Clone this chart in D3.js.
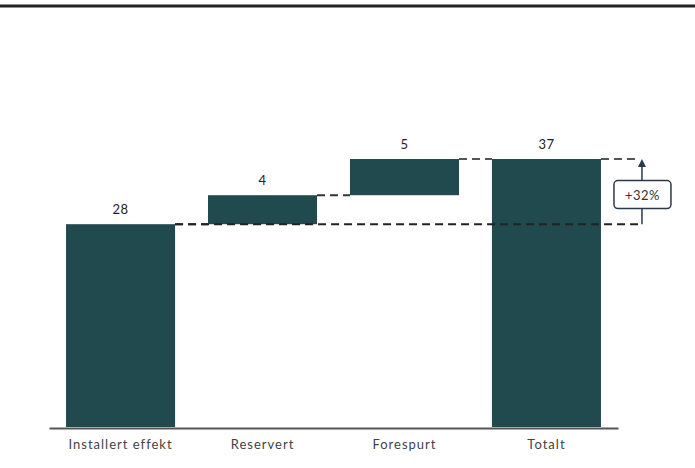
<!DOCTYPE html>
<html>
<head>
<meta charset="utf-8">
<script src="https://cdn.jsdelivr.net/npm/d3@7"></script>
<style>
  html, body { margin: 0; padding: 0; background: #fff; }
  svg { display: block; }
</style>
</head>
<body>
<svg id="chart" width="695" height="468"></svg>
<script>
// Waterfall: installed capacity, reserved, requested, total
const categories = ["Installert effekt", "Reservert", "Forespurt", "Totalt"];
const values = [28, 4, 5, 37];
const kinds = ["total", "step", "step", "total"];

const W = 695, H = 468;
const barColor = "#214a4e";
const font = "Lato, 'Open Sans', sans-serif";
const svg = d3.select("#chart");

// Running base for each step bar
let run = 0;
const rows = categories.map((c, i) => {
  let y0, y1;
  if (kinds[i] === "total") { y0 = 0; y1 = values[i]; run = values[i]; }
  else { y0 = run; y1 = run + values[i]; run = y1; }
  return { cat: c, value: values[i], y0, y1 };
});

const x = d3.scaleBand().domain(categories)
  .range([49, 618]).paddingInner(0.232).paddingOuter(0.12);
const y = d3.scaleLinear().domain([0, 37]).range([427, 159]);

// top rule
svg.append("line").attr("x1", 0).attr("x2", W).attr("y1", 6).attr("y2", 6)
  .attr("stroke", "#222").attr("stroke-width", 3);

// bars
svg.selectAll("rect.bar").data(rows).join("rect")
  .attr("class", "bar")
  .attr("x", d => x(d.cat))
  .attr("width", x.bandwidth())
  .attr("y", d => y(d.y1))
  .attr("height", d => y(d.y0) - y(d.y1))
  .attr("fill", barColor);

// connectors between consecutive bars
const dash = "8,5";
for (let i = 0; i < rows.length - 1; i++) {
  const lvl = rows[i].y1;
  svg.append("line")
    .attr("x1", x(rows[i].cat) + x.bandwidth())
    .attr("x2", x(rows[i + 1].cat))
    .attr("y1", y(lvl)).attr("y2", y(lvl))
    .attr("stroke", i === rows.length - 2 ? "#555" : "#333")
    .attr("stroke-width", 2)
    .attr("stroke-dasharray", dash);
}

// growth indicator on the right
const first = rows[0], last = rows[rows.length - 1];
const arrowX = x(last.cat) + x.bandwidth() + 41;
svg.append("line")
  .attr("x1", x(first.cat) + x.bandwidth()).attr("x2", arrowX)
  .attr("y1", y(first.y1)).attr("y2", y(first.y1))
  .attr("stroke", "#222").attr("stroke-width", 2)
  .attr("stroke-dasharray", dash);
svg.append("line")
  .attr("x1", x(last.cat) + x.bandwidth()).attr("x2", arrowX - 2)
  .attr("y1", y(last.y1)).attr("y2", y(last.y1))
  .attr("stroke", "#555").attr("stroke-width", 2)
  .attr("stroke-dasharray", dash);
svg.append("line")
  .attr("x1", arrowX).attr("x2", arrowX)
  .attr("y1", y(first.y1)).attr("y2", y(last.y1) + 6)
  .attr("stroke", "#2b3a4a").attr("stroke-width", 1.5);
svg.append("path")
  .attr("d", `M${arrowX},${y(last.y1)} l-4,8 l8,0 z`)
  .attr("fill", "#2b3a4a");

const pct = Math.round((last.y1 / first.y1 - 1) * 100);
const midY = (y(first.y1) + y(last.y1)) / 2 + 3;
svg.append("rect")
  .attr("x", arrowX - 28).attr("y", midY - 14)
  .attr("width", 57).attr("height", 28).attr("rx", 4)
  .attr("fill", "#fff").attr("stroke", "#2b3a4a").attr("stroke-width", 1.5);
svg.append("text")
  .attr("x", arrowX + 0.5).attr("y", midY + 5)
  .attr("text-anchor", "middle")
  .attr("font-family", font)
  .attr("font-size", 13).attr("fill", "#333")
  .attr("letter-spacing", "0.5px")
  .text("+" + pct + "%");

// value labels
svg.selectAll("text.val").data(rows).join("text")
  .attr("class", "val")
  .attr("x", d => x(d.cat) + x.bandwidth() / 2)
  .attr("y", d => y(d.y1) - 10)
  .attr("text-anchor", "middle")
  .attr("font-family", font)
  .attr("font-size", 13).attr("fill", "#222")
  .attr("letter-spacing", "0.5px")
  .text(d => d.value);

// baseline axis
const axis = svg.append("g").attr("transform", "translate(0,428)")
  .call(d3.axisBottom(x).tickSize(0).tickPadding(12));
axis.select(".domain").attr("stroke", "#555").attr("stroke-width", 2);
axis.selectAll("text")
  .attr("font-family", font)
  .attr("font-size", 13).attr("fill", "#444")
  .attr("letter-spacing", "1px");
</script>
</body>
</html>
